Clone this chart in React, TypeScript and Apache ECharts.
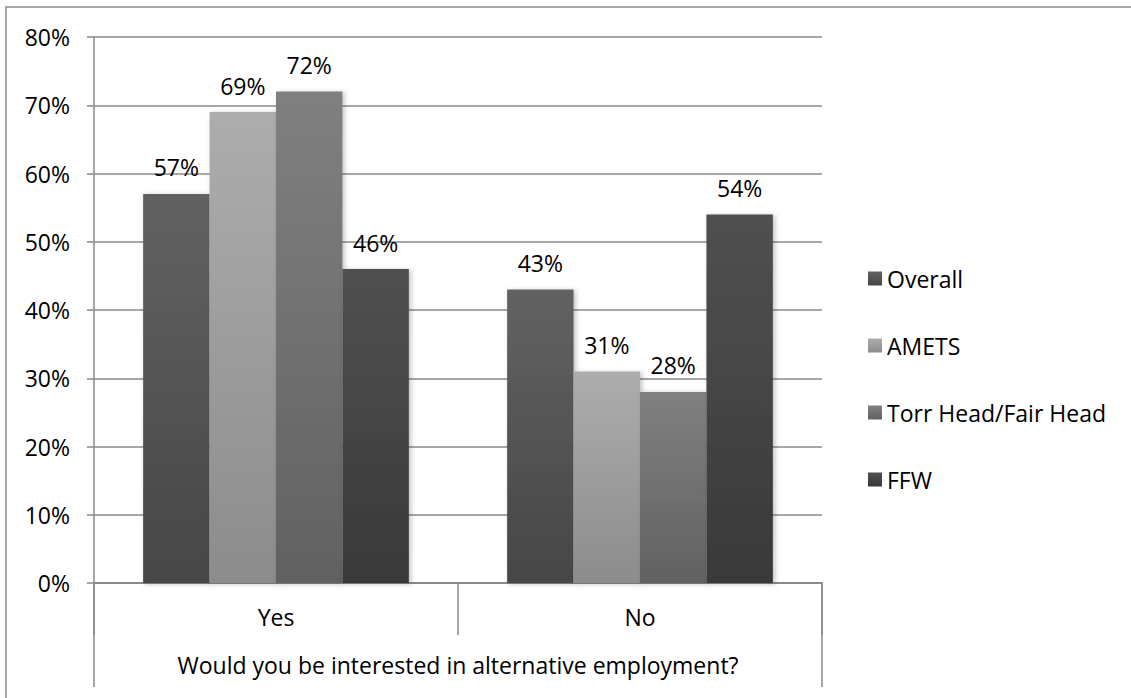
import React, { useEffect, useRef } from "react";
import * as echarts from "echarts";

const categories = ["Yes", "No"];
const groupLabel = ["Would you be interested in alternative employment?"];
const seriesNames = ["Overall", "AMETS", "Torr Head/Fair Head", "FFW"];
const overall = [57, 43];
const amets = [69, 31];
const torr = [72, 28];
const ffw = [46, 54];
const yTicks = [0, 10, 20, 30, 40, 50, 60, 70, 80];

const gradients: [string, string][] = [
  ["#626262", "#464646"],
  ["#adadad", "#8c8c8c"],
  ["#808080", "#616161"],
  ["#505050", "#393939"],
];

const FONT = "'Open Sans', Lato, sans-serif";
const FS = 23;

export default function App() {
  const ref = useRef<HTMLDivElement>(null);
  useEffect(() => {
    if (!ref.current) return;
    const chart = echarts.init(ref.current, undefined, { renderer: "svg" });
    const data = [overall, amets, torr, ffw];
    chart.setOption({
      animation: false,
      backgroundColor: "#ffffff",
      textStyle: { fontFamily: FONT },
      grid: { left: 94, right: 309, top: 37, bottom: 115, containLabel: false },
      legend: {
        orient: "vertical",
        left: 863,
        top: 262,
        itemWidth: 14,
        itemHeight: 14,
        itemGap: 44,
        icon: "rect",
        data: seriesNames,
        textStyle: { fontFamily: FONT, fontSize: FS, color: "#000", lineHeight: 20, padding: [0, 0, 0, 0] },
      },
      xAxis: [
        {
          type: "category",
          data: categories,
          position: "bottom",
          axisLine: { show: true, lineStyle: { color: "#8a8a8a", width: 2 } },
          axisTick: { show: true, length: 52, interval: 0, lineStyle: { color: "#8a8a8a", width: 1.5 } },
          axisLabel: { margin: 22, fontSize: FS, color: "#000", fontFamily: FONT },
        },
        {
          type: "category",
          data: groupLabel,
          position: "bottom",
          axisLine: { show: false },
          axisTick: { show: true, length: 104, lineStyle: { color: "#8a8a8a", width: 1.5 } },
          axisLabel: { margin: 70, fontSize: FS, color: "#000", fontFamily: FONT },
        },
      ],
      yAxis: {
        type: "value",
        min: 0,
        max: 80,
        interval: 10,
        axisLine: { show: true, lineStyle: { color: "#8a8a8a", width: 1.5 } },
        axisTick: { show: true, length: 7, lineStyle: { color: "#8a8a8a", width: 1.5 } },
        splitLine: { show: true, lineStyle: { color: "#8a8a8a", width: 1.5 } },
        axisLabel: {
          margin: 24,
          fontSize: FS,
          color: "#000",
          fontFamily: FONT,
          formatter: (v: number) => (yTicks.includes(v) ? v + "%" : ""),
        },
      },
      series: seriesNames.map((name, i) => ({
        name,
        type: "bar",
        xAxisIndex: 0,
        data: data[i],
        barGap: "0%",
        barCategoryGap: "27%",
        itemStyle: {
          color: new echarts.graphic.LinearGradient(0, 0, 0, 1, [
            { offset: 0, color: gradients[i][0] },
            { offset: 1, color: gradients[i][1] },
          ]),
          shadowColor: "rgba(0,0,0,0.25)",
          shadowBlur: 5,
          shadowOffsetX: 2,
          shadowOffsetY: 1,
        },
        label: {
          show: true,
          position: "top",
          distance: 15,
          fontSize: FS,
          color: "#000",
          fontFamily: FONT,
          formatter: (p: any) => p.value + "%",
        },
      })),
      graphic: [
        {
          type: "rect",
          shape: { x: 6, y: 7, width: 1200, height: 760 },
          style: { fill: "none", stroke: "#8c8c8c", lineWidth: 1.5 },
          silent: true,
        },
      ],
    });
    return () => chart.dispose();
  }, []);
  return (
    <div
      ref={ref}
      style={{ position: "fixed", left: 0, top: 0, width: 1131, height: 698 }}
    />
  );
}
